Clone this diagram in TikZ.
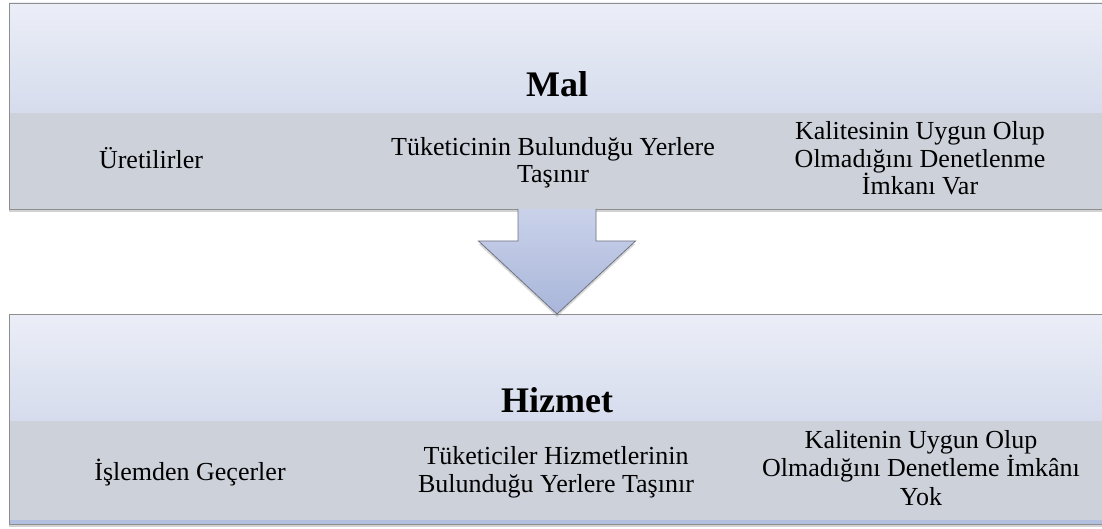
\documentclass[tikz,border=0pt]{standalone}
\usepackage{fontspec}
\setmainfont{Liberation Serif}
\usetikzlibrary{shadows}
\definecolor{paneltop}{HTML}{EBEEF7}
\definecolor{panelbottom}{HTML}{D6DCED}
\definecolor{bandgrey}{HTML}{CDD1DA}
\definecolor{boxline}{HTML}{8E8E8E}
\definecolor{arrowtop}{HTML}{CAD2EA}
\definecolor{arrowbottom}{HTML}{A9B6DA}
\definecolor{arrowline}{HTML}{6E7383}
\definecolor{bluestrip}{HTML}{B3BFDF}
\begin{document}
\begin{tikzpicture}[x=1pt,y=-1pt,
    head/.style={top color=paneltop,bottom color=panelbottom,anchor=north west,
      minimum width=1096,inner sep=0,outer sep=0},
    band/.style={fill=bandgrey,anchor=north west,minimum width=1096,inner sep=0,outer sep=0,
      drop shadow={shadow xshift=0pt,shadow yshift=-3pt,opacity=0.35}},
    title/.style={font=\fontsize{36}{40}\selectfont\bfseries,anchor=base,inner sep=0},
    item/.style={font=\fontsize{26}{27.5}\selectfont,align=center,anchor=base,inner sep=0}]
    \useasboundingbox[fill=white] (0,0) rectangle (1102,529);
    \node[band,minimum height=96] (malband) at (9,113) {};
    \node[head,minimum height=110] (malhead) at (9,3) {};
    \draw[boxline,line width=0.8pt] (malhead.north west) rectangle (malband.south east);
    \node[band,minimum height=104] (hizband) at (9,420) {};
    \node[head,minimum height=106] (hizhead) at (9,314) {};
    \fill[bluestrip] ([yshift=4pt]hizband.south west) rectangle (hizband.south east);
    \draw[boxline,line width=0.8pt] (hizhead.north west) rectangle (hizband.south east);
    \path[top color=arrowtop,bottom color=arrowbottom,
      drop shadow={shadow xshift=0pt,shadow yshift=-3pt,opacity=0.3}]
      ([xshift=-39pt]malband.south) -- ++(0,32) -- ++(-39.5,0) -- (hizhead.north)
      -- ++(78.5,-73) -- ++(-39.5,0) -- ++(0,-32) -- cycle;
    \draw[arrowline,line width=0.8pt,line join=miter]
      ([xshift=-39pt]malband.south) -- ++(0,32) -- ++(-39.5,0) -- (hizhead.north)
      -- ++(78.5,-73) -- ++(-39.5,0) -- ++(0,-32);
    \node[title] (maltitle) at (557,97) {Mal};
    \node[item] (mal1) at (151,169) {Üretilirler};
    \node[item] (mal2) at (553,183) {Tüketicinin Bulunduğu Yerlere\\Taşınır};
    \node[item] (mal3) at (920,195) {Kalitesinin Uygun Olup\\Olmadığını Denetlenme\\İmkanı Var};
    \node[title] (hiztitle) at (557,412) {Hizmet};
    \node[item] (hiz1) at (190,480) {İşlemden Geçerler};
    \node[item] (hiz2) at (556,492) {Tüketiciler Hizmetlerinin\\Bulunduğu Yerlere Taşınır};
    \node[item] (hiz3) at (921,505) {Kalitenin Uygun Olup\\[1pt]Olmadığını Denetleme İmkânı\\[1pt]Yok};
\end{tikzpicture}
\end{document}
